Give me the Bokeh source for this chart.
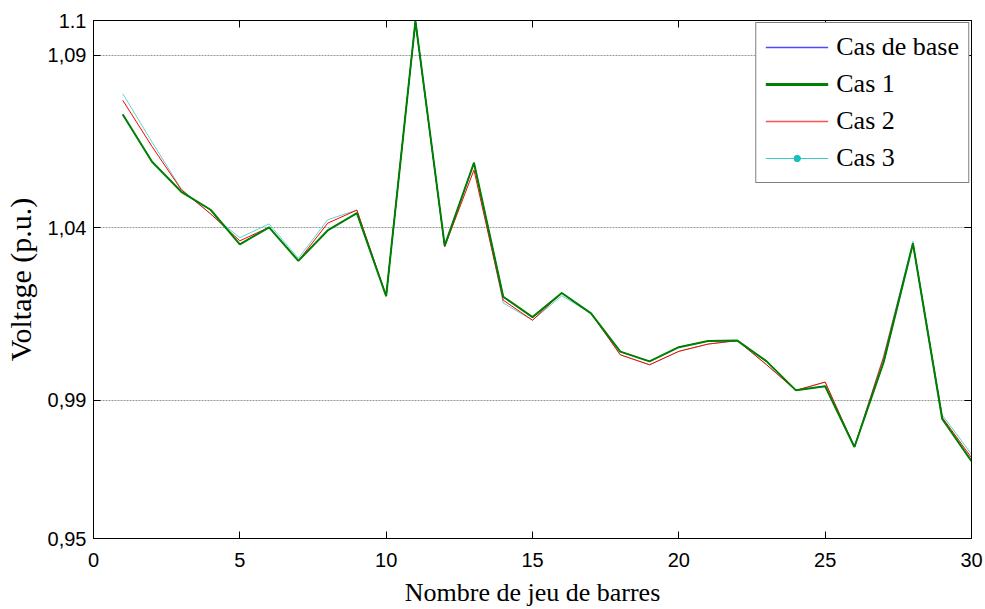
from bokeh.plotting import figure
from bokeh.models import (Range1d, FixedTicker, LinearAxis, Legend, LegendItem,
                          ColumnDataSource)
from bokeh.embed import file_html
from bokeh.resources import INLINE

# Bus voltage profile (p.u.) for the IEEE 30-bus network, four load cases
bus = list(range(1, 31))
cas_base = [1.0728, 1.0591, 1.0504, 1.0452, 1.0352, 1.0401, 1.0304, 1.0392, 1.0442, 1.0202,
            1.0998, 1.0348, 1.0588, 1.0200, 1.0141, 1.0211, 1.0152, 1.0041, 1.0013, 1.0054,
            1.0072, 1.0073, 1.0013, 0.9929, 0.9941, 0.9765, 1.0011, 1.0354, 0.9846, 0.9724]
cas_1 = [1.0728, 1.0591, 1.0504, 1.0452, 1.0352, 1.0401, 1.0304, 1.0392, 1.0442, 1.0202,
         1.0998, 1.0348, 1.0588, 1.0200, 1.0141, 1.0211, 1.0152, 1.0041, 1.0013, 1.0054,
         1.0072, 1.0073, 1.0013, 0.9929, 0.9941, 0.9765, 1.0011, 1.0354, 0.9846, 0.9724]
cas_2 = [1.0769, 1.0635, 1.0510, 1.0440, 1.0362, 1.0401, 1.0304, 1.0413, 1.0451, 1.0202,
         1.0998, 1.0345, 1.0567, 1.0190, 1.0132, 1.0211, 1.0152, 1.0032, 1.0003, 1.0042,
         1.0063, 1.0073, 1.0003, 0.9929, 0.9953, 0.9765, 1.0025, 1.0354, 0.9851, 0.9734]
cas_3 = [1.0788, 1.0648, 1.0512, 1.0440, 1.0371, 1.0411, 1.0311, 1.0423, 1.0451, 1.0202,
         1.0998, 1.0345, 1.0585, 1.0182, 1.0132, 1.0203, 1.0152, 1.0032, 1.0003, 1.0042,
         1.0063, 1.0073, 1.0003, 0.9929, 0.9953, 0.9765, 1.0030, 1.0361, 0.9858, 0.9744]

x_ticks = [0, 5, 10, 15, 20, 25, 30]
y_ticks = [0.95, 0.99, 1.04, 1.09, 1.1]
y_tick_labels = ["0,95", "0,99", "1,04", "1,09", "1.1"]
grid_levels = [0.99, 1.04, 1.09]

SANS = "Liberation Sans"
SERIF = "Liberation Serif"

p = figure(width=985, height=609, output_backend="svg", toolbar_location=None,
           x_range=Range1d(0, 30), y_range=Range1d(0.95, 1.1),
           min_border_left=93, min_border_right=14, min_border_top=20,
           min_border_bottom=69, background_fill_color="white",
           border_fill_color="white")
p.outline_line_color = "black"
p.outline_line_width = 1

# Grid: horizontal dotted lines only
p.xgrid.visible = False
p.ygrid.ticker = FixedTicker(ticks=grid_levels)
p.ygrid.grid_line_color = "#9a9a9a"
p.ygrid.grid_line_dash = "2 1"
p.ygrid.grid_line_width = 1

# Bottom axis
xa = p.xaxis[0]
xa.ticker = FixedTicker(ticks=x_ticks)
xa.axis_label = "Nombre de jeu de barres"
xa.axis_label_text_font = SERIF
xa.axis_label_text_font_size = "26px"
xa.axis_label_text_font_style = "normal"
xa.axis_label_text_color = "black"
xa.axis_label_standoff = 8
xa.major_label_text_font = SANS
xa.major_label_text_font_size = "20px"
xa.major_label_text_color = "black"
xa.major_label_standoff = 14

# Left axis
ya = p.yaxis[0]
ya.ticker = FixedTicker(ticks=y_ticks)
ya.major_label_overrides = {v: s for v, s in zip(y_ticks, y_tick_labels)}
ya.axis_label = "Voltage (p.u.)"
ya.axis_label_text_font = SERIF
ya.axis_label_text_font_size = "30px"
ya.axis_label_text_font_style = "normal"
ya.axis_label_text_color = "black"
ya.axis_label_standoff = 8
ya.major_label_text_font = SANS
ya.major_label_text_font_size = "20px"
ya.major_label_text_color = "black"
ya.major_label_standoff = 7

for ax in (xa, ya):
    ax.axis_line_color = "black"
    ax.major_tick_in = 7
    ax.major_tick_out = 0
    ax.major_tick_line_color = "black"
    ax.minor_tick_line_color = None

# Box ticks on top and right (tick marks only, no labels)
top = LinearAxis(ticker=FixedTicker(ticks=x_ticks), major_label_text_color=None,
                 major_label_text_alpha=0, major_label_text_font_size="1px",
                 major_tick_in=7, major_tick_out=0, minor_tick_line_color=None,
                 axis_line_color="black", major_label_standoff=0)
right = LinearAxis(ticker=FixedTicker(ticks=y_ticks), major_label_text_color=None,
                   major_label_text_alpha=0, major_label_text_font_size="1px",
                   major_tick_in=7, major_tick_out=0, minor_tick_line_color=None,
                   axis_line_color="black", major_label_standoff=0)
p.add_layout(top, "above")
p.add_layout(right, "right")

src = ColumnDataSource(dict(bus=bus, base=cas_base, c1=cas_1, c2=cas_2, c3=cas_3))

BLUE, GREEN, RED, CYAN = "#0000ff", "#008000", "#ff0000", "#5fd3d3"

r3 = p.line("bus", "c3", source=src, line_color=CYAN, line_width=1)
r2 = p.line("bus", "c2", source=src, line_color=RED, line_width=1)
r0 = p.line("bus", "base", source=src, line_color=BLUE, line_width=1)
r1 = p.line("bus", "c1", source=src, line_color=GREEN, line_width=2)

# Hidden renderers that only provide the legend symbols
leg0 = p.line("bus", "base", source=src, line_color="#4b4bff", line_width=1.5, visible=False)
leg1 = p.line("bus", "c1", source=src, line_color=GREEN, line_width=3, visible=False)
leg2 = p.line("bus", "c2", source=src, line_color="#ff5050", line_width=1.5, visible=False)
leg3 = p.line("bus", "c3", source=src, line_color="#3fcaca", line_width=1, visible=False)
leg3m = p.scatter("bus", "c3", source=src, marker="circle", size=6,
                  fill_color="#17bfbf", line_color="#17bfbf", visible=False)

legend = Legend(items=[
    LegendItem(label="Cas de base", renderers=[leg0]),
    LegendItem(label="Cas 1", renderers=[leg1]),
    LegendItem(label="Cas 2", renderers=[leg2]),
    LegendItem(label="Cas 3", renderers=[leg3, leg3m]),
], location="top_right")
legend.margin = 2
legend.padding = 9
legend.spacing = 7
legend.glyph_width = 63
legend.glyph_height = 16
legend.label_height = 28
legend.label_standoff = 8
legend.label_text_font = SERIF
legend.label_text_font_size = "26px"
legend.label_text_color = "black"
legend.border_line_color = "black"
legend.border_line_width = 1
legend.background_fill_color = "white"
legend.background_fill_alpha = 1
legend.click_policy = "none"
p.add_layout(legend)

open("out.html", "w").write(file_html(p, INLINE))
